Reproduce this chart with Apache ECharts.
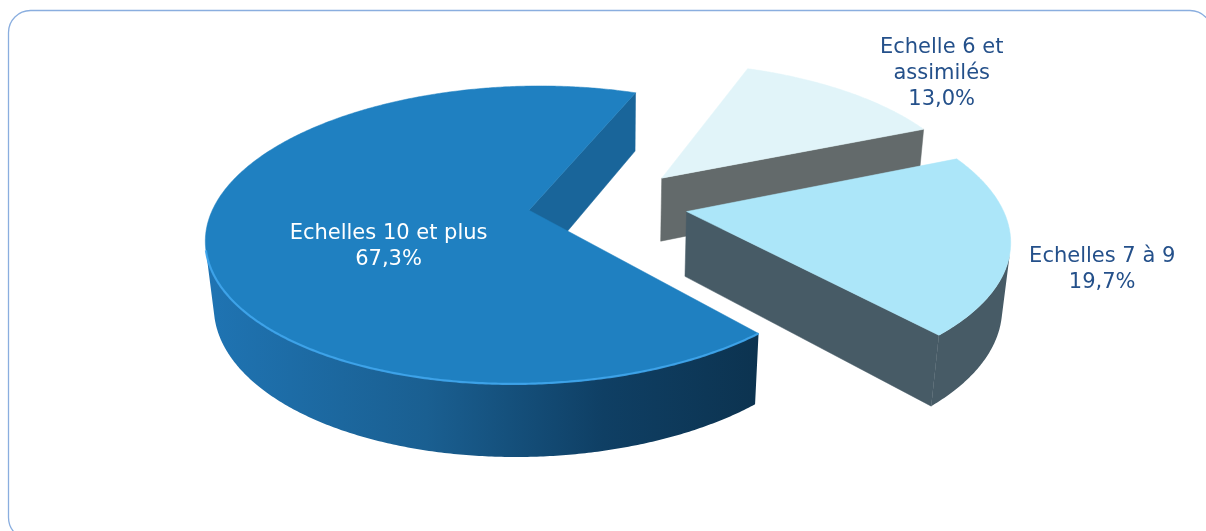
<!DOCTYPE html>
<html><head><meta charset="utf-8">
<script src="https://cdn.jsdelivr.net/npm/echarts@6/dist/echarts.min.js"></script>
<style>html,body{margin:0;padding:0;background:#fff}#c{width:1206px;height:531px}</style>
</head><body><div id="c"></div>
<script>
// ---- data ----
const categories = ['Echelles 10 et plus', 'Echelles 7 à 9', 'Echelle 6 et assimilés'];
const labelLines = [['Echelles 10 et plus'], ['Echelles 7 à 9'], ['Echelle 6 et', 'assimilés']];
const shares = [67.3, 19.7, 13.0];

// ---- 3D pie projection settings ----
const G = {CX: 608, CY: 236, R: 311, h: 36.5, D: 1683, sinP: 0.471, explode: 79, start: 69.5};
const cosP = Math.sqrt(1 - G.sinP * G.sinP);
const D2R = Math.PI / 180;
const TOTAL = shares.reduce((a, b) => a + b, 0);

const sliceStyles = [
  {top: '#1f80c1', side: 'grad', face: '#19659a', rim: '#3fa5ec', label: '#ffffff'},
  {top: '#ace6f9', side: '#475b66', face: '#475b66', rim: null, label: '#24508a'},
  {top: '#e1f4f9', side: '#636a6b', face: '#636a6b', rim: null, label: '#24508a'}
];
const labelLayout = [{ang: 210, rf: 0.48}, {ang: -17.1, rf: 1.27}, {ang: 39.5, rf: 1.39}];

function proj(X, Y, Z) {
  const up = Y * cosP - Z * G.sinP;
  const t = Z * cosP + Y * G.sinP;
  const s = G.D / (G.D - t);
  return [G.CX + X * s, G.CY - up * s];
}
function sliceGeom(i, v) {
  let before = 0;
  for (let k = 0; k < i; k++) before += shares[k];
  const a0 = G.start + before / TOTAL * 360;
  const a1 = a0 + v / TOTAL * 360;
  const mid = (a0 + a1) / 2 * D2R;
  return {a0, a1, ox: G.explode * Math.cos(mid), oz: -G.explode * Math.sin(mid)};
}
const depthOrder = shares.map((v, i) => ({i, oz: sliceGeom(i, v).oz})).sort((a, b) => a.oz - b.oz);
const depthRank = [];
depthOrder.forEach((d, r) => { depthRank[d.i] = r; });
const DcP = G.D * cosP;

function renderItem(params, api) {
  const i = params.dataIndex;
  const v = api.value(0);
  const g = sliceGeom(i, v);
  const {a0, a1, ox, oz} = g;
  const st = sliceStyles[i];
  const base = depthRank[i] * 10;
  const rim = (deg, Y) => { const t = deg * D2R; return proj(ox + G.R * Math.cos(t), Y, oz - G.R * Math.sin(t)); };
  const steps = Math.max(8, Math.ceil((a1 - a0) / 0.5));
  const angs = [];
  for (let k = 0; k <= steps; k++) angs.push(a0 + (a1 - a0) * k / steps);
  const children = [];
  const cTop = proj(ox, G.h, oz), cBot = proj(ox, -G.h, oz);

  // radial faces
  const s0 = Math.sin(a0 * D2R), c0 = Math.cos(a0 * D2R);
  if (s0 * (-ox) + c0 * (DcP - oz) > 0) {
    children.push({type: 'polygon', z2: base + 1, shape: {points: [cTop, rim(a0, G.h), rim(a0, -G.h), cBot]},
      style: {fill: st.face, stroke: st.face, lineWidth: 0.5}});
  }
  const s1 = Math.sin(a1 * D2R), c1 = Math.cos(a1 * D2R);
  if (s1 * ox - c1 * (DcP - oz) > 0) {
    children.push({type: 'polygon', z2: base + 1, shape: {points: [cTop, rim(a1, G.h), rim(a1, -G.h), cBot]},
      style: {fill: st.face, stroke: st.face, lineWidth: 0.5}});
  }
  // outer side: visible runs
  const vis = angs.map(d => { const t = d * D2R; return -ox * Math.cos(t) + (oz - DcP) * Math.sin(t) - G.R > 0; });
  let runs = [], cur = null;
  for (let k = 0; k < angs.length; k++) {
    if (vis[k]) { if (!cur) { cur = []; runs.push(cur); } cur.push(angs[k]); }
    else cur = null;
  }
  runs.forEach(run => {
    if (run.length < 2) return;
    const topPts = run.map(d => rim(d, G.h));
    const botPts = run.map(d => rim(d, -G.h)).reverse();
    let fill = st.side;
    if (st.side === 'grad') {
      const xs = topPts.map(p => p[0]);
      fill = {type: 'linear', x: Math.min(...xs), y: 0, x2: Math.max(...xs), y2: 0, global: true,
        colorStops: [{offset: 0, color: '#1f74b3'}, {offset: 0.4, color: '#1a5f91'},
                     {offset: 0.72, color: '#0f3f64'}, {offset: 1, color: '#0c3350'}]};
    }
    children.push({type: 'polygon', z2: base + 2, shape: {points: topPts.concat(botPts)},
      style: {fill: fill}});
    if (st.rim) {
      children.push({type: 'polyline', z2: base + 4, shape: {points: topPts},
        style: {stroke: st.rim, lineWidth: 2.2, fill: null, opacity: 0.9}});
    }
  });
  // top face
  const topFace = [cTop].concat(angs.map(d => rim(d, G.h)));
  children.push({type: 'polygon', z2: base + 3, shape: {points: topFace},
    style: {fill: st.top, stroke: st.top, lineWidth: 0.5}});
  // label
  const L = labelLayout[i];
  const lp = proj(ox + L.rf * G.R * Math.cos(L.ang * D2R), G.h, oz - L.rf * G.R * Math.sin(L.ang * D2R));
  const pct = v.toFixed(1).replace('.', ',') + '%';
  children.push({type: 'text', z2: 200, x: lp[0], y: lp[1],
    style: {text: labelLines[i].concat([pct]).join('\n'), fill: st.label, fontSize: 21,
      fontFamily: 'DejaVu Sans', align: 'center', verticalAlign: 'middle', lineHeight: 26}});
  return {type: 'group', children};
}

const chart = echarts.init(document.getElementById('c'), null, {renderer: 'canvas'});
chart.setOption({
  animation: false,
  backgroundColor: '#ffffff',
  graphic: [{type: 'rect', silent: true, z: -10,
    shape: {x: 8.5, y: 10.5, width: 1203.5, height: 529, r: 22},
    style: {fill: 'transparent', stroke: '#8aaedf', lineWidth: 1.3}}],
  series: [{
    type: 'custom', coordinateSystem: 'none',
    data: shares.map((v, i) => ({name: categories[i], value: [v, i]})),
    renderItem: renderItem
  }]
});
</script></body></html>
